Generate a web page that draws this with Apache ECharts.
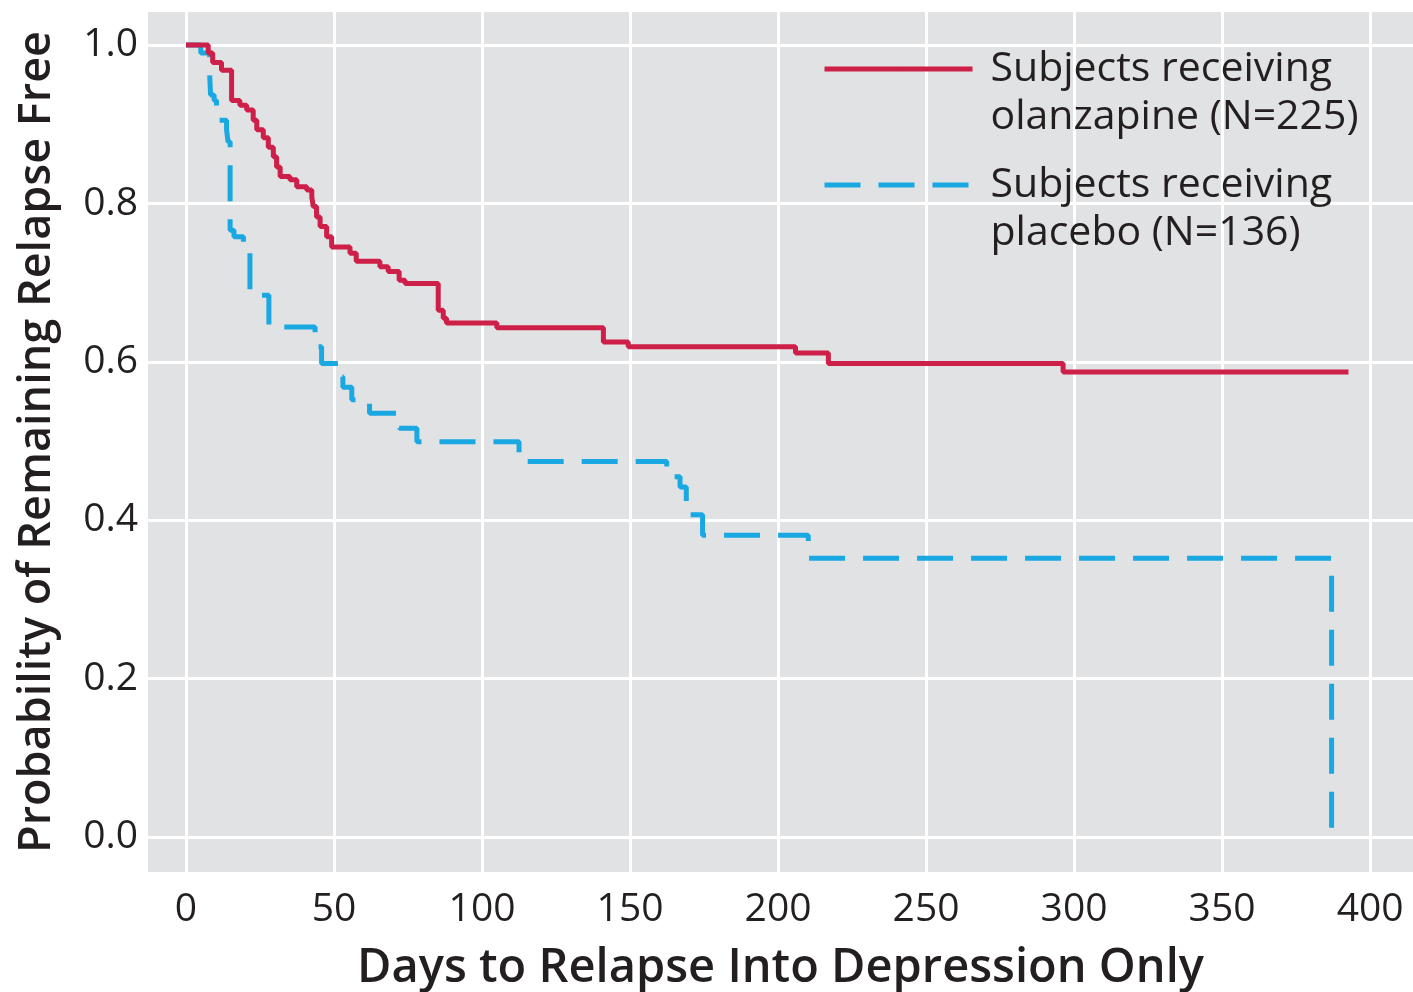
<!DOCTYPE html>
<html>
<head>
<meta charset="utf-8">
<script src="https://cdn.jsdelivr.net/npm/echarts@6/dist/echarts.min.js"></script>
<style>
  html, body { margin: 0; padding: 0; background: #fff; }
  #chart { width: 1413px; height: 992px; }
</style>
</head>
<body>
<div id="chart"></div>
<script>
// Kaplan-Meier steps: day of event, survival after it
var olanDays = [0, 7.5, 9, 12, 15.4, 18.2, 20.5, 22.7, 23.9, 26.1, 27.8, 29.5, 30.6, 31.8, 35.1, 37.4, 40.8, 42.5, 43, 44.1, 45.3, 47.5, 49.2, 55.4, 57.5, 65.5, 68.3, 72, 74, 85.2, 86.9, 88, 105, 141, 149.4, 205.9, 217, 296.3, 392.7];
var olanSurv = [1.0, 0.99, 0.978, 0.968, 0.93, 0.924, 0.918, 0.905, 0.893, 0.883, 0.871, 0.859, 0.846, 0.834, 0.83, 0.821, 0.817, 0.808, 0.796, 0.783, 0.771, 0.758, 0.745, 0.737, 0.727, 0.72, 0.714, 0.703, 0.699, 0.665, 0.655, 0.649, 0.643, 0.625, 0.619, 0.611, 0.598, 0.587, 0.587];

var placDays = [0, 5, 8, 8.3, 9.5, 10.3, 13.7, 14.2, 14.9, 16.2, 19.4, 20.5, 21.6, 28, 43.6, 44.7, 45.8, 52, 53, 56, 62, 72, 78, 112.5, 162.4, 166.9, 169, 174.5, 210.2, 387];
var placSurv = [1.0, 0.99, 0.962, 0.937, 0.93, 0.905, 0.893, 0.878, 0.766, 0.758, 0.741, 0.737, 0.684, 0.644, 0.632, 0.619, 0.598, 0.581, 0.568, 0.552, 0.535, 0.516, 0.499, 0.474, 0.455, 0.442, 0.407, 0.381, 0.352, 0.01];

var seriesNames = ['Subjects receiving\nolanzapine (N=225)', 'Subjects receiving\nplacebo (N=136)'];

function pairs(xs, ys) {
    var out = [];
    for (var i = 0; i < xs.length; i++) out.push([xs[i], ys[i]]);
    return out;
}

var textColor = '#231f20';
var font = "'Open Sans', 'Noto Sans', sans-serif";

var myChart = echarts.init(document.getElementById('chart'), null, {renderer: 'canvas'});
var option = {
    backgroundColor: '#ffffff',
    animation: false,
    grid: {
        left: 148, right: 0, top: 12, bottom: 120,
        outerBoundsMode: 'none',
        show: true, backgroundColor: '#e1e2e4', borderWidth: 0
    },
    legend: {
        data: seriesNames,
        orient: 'vertical',
        left: 822,
        top: -3,
        padding: 0,
        itemWidth: 148,
        itemHeight: 1,
        itemGap: -28,
        lineStyle: {width: 'inherit'},
        formatter: function (name) { return '\n' + name; },
        textStyle: {fontFamily: font, fontSize: 41, lineHeight: 48, color: textColor, padding: [0, 0, 0, 13]}
    },
    xAxis: {
        type: 'value',
        min: -12.84,
        max: 414.5,
        splitNumber: 8,
        name: 'Days to Relapse Into Depression Only',
        nameLocation: 'middle',
        nameGap: 73,
        nameTextStyle: {fontFamily: font, fontSize: 47, fontWeight: 600, color: textColor},
        axisLine: {show: false},
        axisTick: {show: false},
        axisLabel: {
            margin: 18, fontFamily: font, fontSize: 39, color: textColor,
            showMinLabel: false, showMaxLabel: false,
            formatter: function (v) { return (Math.abs(v % 50) < 1e-6) ? String(v) : ''; }
        },
        splitLine: {show: true, showMinLine: false, showMaxLine: false, lineStyle: {color: '#ffffff', width: 3}}
    },
    yAxis: {
        type: 'value',
        min: -0.0442,
        max: 1.0417,
        splitNumber: 5,
        name: 'Probability of Remaining Relapse Free',
        nameLocation: 'middle',
        nameGap: 88,
        nameTextStyle: {fontFamily: font, fontSize: 45, fontWeight: 600, color: textColor},
        axisLine: {show: false},
        axisTick: {show: false},
        axisLabel: {
            margin: 10, fontFamily: font, fontSize: 39, color: textColor,
            showMinLabel: false, showMaxLabel: false,
            formatter: function (v) {
                var r = Math.round(v * 10) / 10;
                return Math.abs(r * 5 - Math.round(r * 5)) < 1e-6 ? r.toFixed(1) : '';
            }
        },
        splitLine: {show: true, showMinLine: false, showMaxLine: false, lineStyle: {color: '#ffffff', width: 3}}
    },
    series: [
        {
            name: seriesNames[1],
            type: 'line',
            step: 'end',
            symbol: 'none',
            z: 2,
            lineStyle: {color: '#19a8e2', width: 5, type: [36, 18], cap: 'butt'},
            itemStyle: {color: '#19a8e2'},
            data: pairs(placDays, placSurv)
        },
        {
            name: seriesNames[0],
            type: 'line',
            step: 'end',
            symbol: 'none',
            z: 3,
            lineStyle: {color: '#cd1f47', width: 5},
            itemStyle: {color: '#cd1f47'},
            data: pairs(olanDays, olanSurv)
        }
    ]
};
myChart.setOption(option);
window.addEventListener('resize', function () {
    myChart.resize();
});
</script>
</body>
</html>
